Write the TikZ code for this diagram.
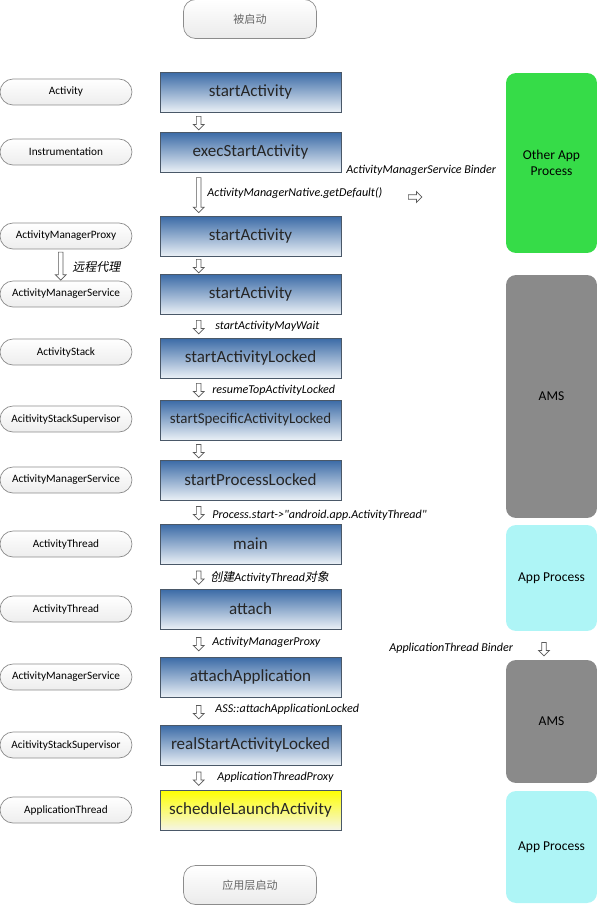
\documentclass[tikz,border=0pt]{standalone}
\usepackage{fontspec}
\setmainfont{Carlito}
\newfontfamily\plainfont{Carlito}
\newfontfamily\cjk{Noto Sans CJK SC}
\newfontfamily\cjkit[FakeSlant=0.2]{Noto Sans CJK SC}
\usetikzlibrary{positioning, calc, shapes.arrows, shadows}
\definecolor{boxtop}{HTML}{3A6AA6}
\definecolor{boxbot}{HTML}{EAF0F6}
\definecolor{boxline}{HTML}{4A5868}
\definecolor{ovline}{HTML}{8C8C8C}
\definecolor{procgreen}{HTML}{36DC48}
\definecolor{procgray}{HTML}{8A8A8A}
\definecolor{proccyan}{HTML}{AEF5F6}

\begin{document}
\begin{tikzpicture}[
      x=0.02cm, y=-0.02cm,
      method/.style={draw=boxline, top color=boxtop, bottom color=boxbot,
                     minimum width=3.62cm, minimum height=0.8cm, inner sep=0pt,
                     font=\fontsize{9.7}{11}\selectfont, text=black!85,
                     drop shadow={shadow xshift=0.6pt, shadow yshift=-0.8pt, opacity=0.35}},
      launch/.style={method, top color=yellow, bottom color=yellow!6!white!92!gray},
      cls/.style={draw=ovline, rounded corners=0.26cm, top color=white, bottom color=gray!14,
                  minimum width=2.64cm, minimum height=0.52cm, inner sep=0pt,
                  font=\fontsize{6.4}{7}\selectfont},
      term/.style={draw=ovline, rounded corners=0.24cm, top color=white, bottom color=gray!16,
                   minimum width=2.66cm, minimum height=0.78cm, inner sep=0pt,
                   font=\fontsize{6.3}{7}\cjk, text=black!60},
      proc/.style={rounded corners=0.2cm, minimum width=1.82cm, align=center, inner sep=0pt,
                   font=\fontsize{7.7}{9.5}\selectfont},
      down/.style={single arrow, draw=gray!70!black, fill=white, shape border rotate=270,
                   inner sep=1.1pt, single arrow head extend=1.8pt, minimum height=0.27cm},
      note/.style={anchor=west, inner sep=0pt, font=\fontsize{6.85}{8}\selectfont\itshape},
    ]
    \useasboundingbox (0,0) rectangle (599,906);

    % start / end
    \node[term] (t1) at (250,19)  {被启动};
    \node[term] (t2) at (250,885) {应用层启动};

    % classes
    \node[cls] (c1)  at (66,92)  {Activity};
    \node[cls] (c2)  at (66,152) {Instrumentation};
    \node[cls] (c3)  at (66,236) {ActivityManagerProxy};
    \node[cls] (c4)  at (66,294) {ActivityManagerService};
    \node[cls] (c5)  at (66,352) {ActivityStack};
    \node[cls] (c6)  at (66,419) {AcitivityStackSupervisor};
    \node[cls] (c7)  at (66,480) {ActivityManagerService};
    \node[cls] (c8)  at (66,544) {ActivityThread};
    \node[cls] (c9)  at (66,609) {ActivityThread};
    \node[cls] (c10) at (66,677) {ActivityManagerService};
    \node[cls] (c11) at (66,745) {AcitivityStackSupervisor};
    \node[cls] (c12) at (66,810) {ApplicationThread};

    % methods
    \node[method] (m1)  at (250.5,92)  {startActivity};
    \node[method] (m2)  at (250.5,152) {execStartActivity};
    \node[method] (m3)  at (250.5,236) {startActivity};
    \node[method] (m4)  at (250.5,294) {startActivity};
    \node[method] (m5)  at (250.5,358) {startActivityLocked};
    \node[method, font=\fontsize{8.5}{10}\selectfont] (m6) at (250.5,420) {startSpecificActivityLocked};
    \node[method] (m7)  at (250.5,480) {startProcessLocked};
    \node[method] (m8)  at (250.5,544) {main};
    \node[method] (m9)  at (250.5,609) {attach};
    \node[method] (m10) at (250.5,677) {attachApplication};
    \node[method] (m11) at (250.5,745) {realStartActivityLocked};
    \node[launch] (m12) at (250.5,810) {scheduleLaunchActivity};

    % processes
    \node[proc, fill=procgreen, minimum height=3.6cm]  (r1) at (551.5,163)   {Other App\\Process};
    \node[proc, fill=procgray, minimum height=4.86cm]  (r2) at (551.5,396.5) {AMS};
    \node[proc, fill=proccyan, minimum height=2.12cm]  (r3) at (551.5,578)   {App Process};
    \node[proc, fill=procgray, minimum height=2.46cm]  (r4) at (551.5,721.5) {AMS};
    \node[proc, fill=proccyan, minimum height=2.24cm]  (r5) at (551.5,847)   {App Process};

    % flow arrows
    \node[down] (a1) at ($(m1.south west)!.5!(m2.north west)+(39,0)$) {};
    \node[down, minimum height=0.7cm] (a2) at ($(m2.south west)!.5!(m3.north west)+(39,0)$) {};
    \node[down] (a3) at ($(m3.south west)!.5!(m4.north west)+(39,0)$) {};
    \node[down] (a4) at ($(m4.south west)!.5!(m5.north west)+(39,0)$) {};
    \node[down] (a5) at ($(m5.south west)!.5!(m6.north west)+(39,0)$) {};
    \node[down] (a6) at ($(m6.south west)!.5!(m7.north west)+(39,0)$) {};
    \node[down] (a7) at ($(m7.south west)!.5!(m8.north west)+(39,0)$) {};
    \node[down] (a8) at ($(m8.south west)!.5!(m9.north west)+(39,0)$) {};
    \node[down] (a9) at ($(m9.south west)!.5!(m10.north west)+(39,0)$) {};
    \node[down] (a10) at ($(m10.south west)!.5!(m11.north west)+(39,0)$) {};
    \node[down] (a11) at ($(m11.south west)!.5!(m12.north west)+(39,0)$) {};
    \node[down, minimum height=0.56cm] (a12) at ($(c3.south west)!.5!(c4.north west)+(61,0)$) {};
    \node[down, shape border rotate=0] (a13) at (414,197) {};
    \node[down] (a14) at (544,648) {};

    % labels
    \node[note] (n1)  at (346,170) {ActivityManagerService Binder};
    \node[note] (n2)  at (207,193) {ActivityManagerNative.getDefault()};
    \node[note] (n3)  at (72,267)  {\cjkit 远程代理};
    \node[note] (n4)  at (215,326) {startActivityMayWait};
    \node[note] (n5)  at (212,390) {resumeTopActivityLocked};
    \node[note] (n6)  at (212,515) {\plainfont\itshape Process.start->"android.app.ActivityThread"};
    \node[note] (n7)  at (210,577) {{\cjkit 创建}ActivityThread{\cjkit 对象}};
    \node[note] (n8)  at (212,642) {ActivityManagerProxy};
    \node[note] (n9)  at (215,709) {ASS::attachApplicationLocked};
    \node[note] (n10) at (217,777) {ApplicationThreadProxy};
    \node[note] (n11) at (389,648) {ApplicationThread Binder};
  \end{tikzpicture}
\end{document}
